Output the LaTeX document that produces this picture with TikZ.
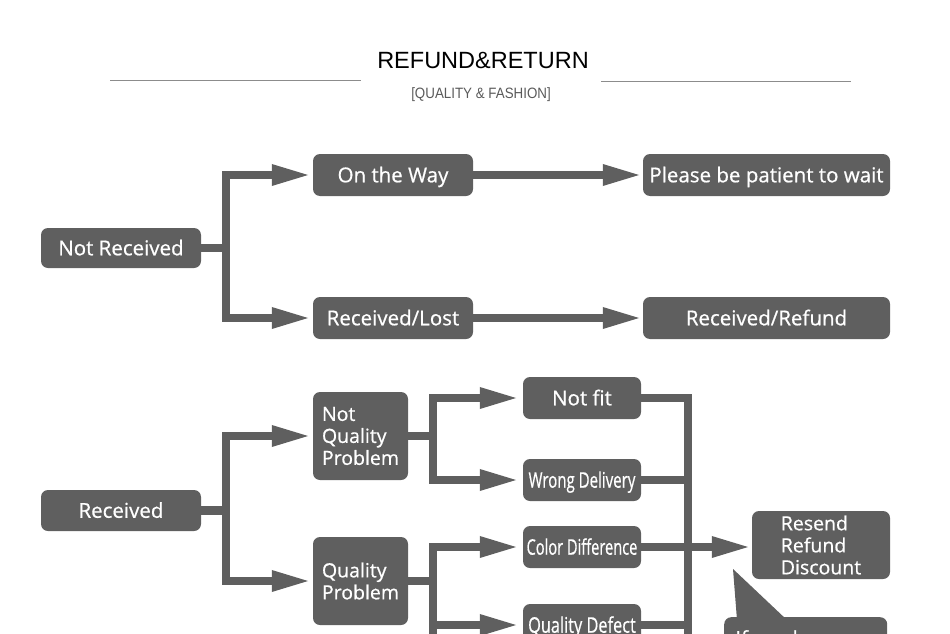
\documentclass[tikz,border=0pt]{standalone}
\usepackage{fontspec}
\setmainfont{Open Sans}
\newfontfamily\boxfont{Open Sans}[FakeBold=0.7]
\newfontfamily\titlefont{Liberation Sans}
\usetikzlibrary{arrows.meta}
\definecolor{boxgray}{HTML}{5F5F5F}
\definecolor{linegray}{HTML}{8C8C8C}
\definecolor{subgray}{HTML}{5A5A5A}
\begin{document}
\begin{tikzpicture}[x=1pt,y=-1pt,
  box/.style={fill=boxgray, rounded corners=7pt, text=white, inner sep=0pt,
    font=\boxfont\fontsize{20.5}{22}\selectfont, text height=14.6pt, text depth=0pt},
  mbox/.style={fill=boxgray, rounded corners=7pt, text=white, inner sep=0pt,
    align=left, font=\boxfont\fontsize{19.5}{22}\selectfont},
  conn/.style={draw=boxgray, line width=8.5pt, line join=miter},
  arr/.style={conn, -{Triangle[length=40pt,width=19pt]}, shorten >=1pt},
  rule/.style={draw=linegray, line width=1pt}
]
\useasboundingbox (0,0) rectangle (950,634);
\clip (0,0) rectangle (950,634);

% title
\node (title) at (483,60) {\titlefont\fontsize{23.5}{26}\selectfont REFUND\&RETURN};
\node[text=subgray] (sub) at (481,95) {\titlefont\fontsize{15}{17}\selectfont\scalebox{0.89}[1]{[QUALITY \& FASHION]}};
\draw[rule] (110,80) -- (361,80);
\draw[rule] (601,81) -- (851,81);

% upper part
\node[box, minimum width=160pt, minimum height=40pt] (nr) at (121,248) {Not Received};
\node[box, minimum width=160pt, minimum height=42pt] (otw) at (393,175) {On the Way};
\node[box, minimum width=160pt, minimum height=42pt] (rl) at (393,318) {Received/Lost};
\node[box, minimum width=247pt, minimum height=42pt] (pw) at (766.5,175) {Please be patient to wait};
\node[box, minimum width=247pt, minimum height=42pt] (rr) at (766.5,318) {Received/Refund};

\draw[arr] (nr.east) -- ++(25,0) |- (otw.west);
\draw[arr] (nr.east) -- ++(25,0) |- (rl.west);
\draw[arr, shorten >=0pt] (otw.east) -- (pw.west);
\draw[arr, shorten >=0pt] (rl.east) -- (rr.west);

% lower part
\node[box, minimum width=160pt, minimum height=41pt] (rec) at (121,510.5) {Received};
\node[mbox, minimum width=95pt, minimum height=88pt] (nqp) at (360.5,436) {Not\\Quality\\Problem};
\node[mbox, minimum width=95pt, minimum height=88pt] (qp) at (360.5,581) {Quality\\Problem};
\node[box, minimum width=118pt, minimum height=42pt] (nf) at (582,398) {Not fit};
\node[box, minimum width=118pt, minimum height=42pt, text height=15.4pt] (wd) at (582,480) {\fontsize{21.5}{22}\selectfont\scalebox{0.70}[1]{Wrong Delivery}};
\node[box, minimum width=118pt, minimum height=42pt, text height=15.4pt] (cdf) at (582,547) {\fontsize{21.5}{22}\selectfont\scalebox{0.68}[1]{Color Difference}};
\node[box, minimum width=118pt, minimum height=42pt, text height=15.4pt] (qdf) at (582,625) {\fontsize{21.5}{22}\selectfont\scalebox{0.76}[1]{Quality Defect}};
\node[mbox, minimum width=138pt, minimum height=68pt] (res) at (821,545) {Resend\\Refund\\Discount};

\draw[arr] (rec.east) -- ++(25,0) |- (nqp.west);
\draw[arr] (rec.east) -- ++(25,0) |- (qp.west);
\draw[arr, shorten >=3pt] (nqp.east) -- ++(25,0) |- (nf.west);
\draw[arr, shorten >=3pt] (nqp.east) -- ++(25,0) |- (wd.west);
\draw[arr, shorten >=3pt] (qp.east) -- ++(25,0) |- (cdf.west);
\draw[arr, shorten >=3pt] (qp.east) -- ++(25,0) |- (qdf.west);
\draw[conn] (qp.east) -- ++(25,0) -- ++(0,90);

\coordinate (rb) at (688,680);
\draw[conn] (nf.east) -| (rb);
\draw[conn] (wd.east) -- (wd.east -| rb);
\draw[conn] (qdf.east) -- (qdf.east -| rb);
\draw[arr, shorten >=0pt] (cdf.east) -- (cdf.east -| res.west);

% speech bubble
\fill[boxgray] (733,569) -- (737,620) -- (787,620) -- cycle;
\node[fill=boxgray, rounded corners=7pt, text=white, anchor=north west,
  minimum width=163pt, minimum height=46pt,
  inner xsep=8pt, inner ysep=11pt, font=\boxfont\fontsize{20}{22}\selectfont] (ifb) at (724,617)
  {If you have any};
\end{tikzpicture}
\end{document}
